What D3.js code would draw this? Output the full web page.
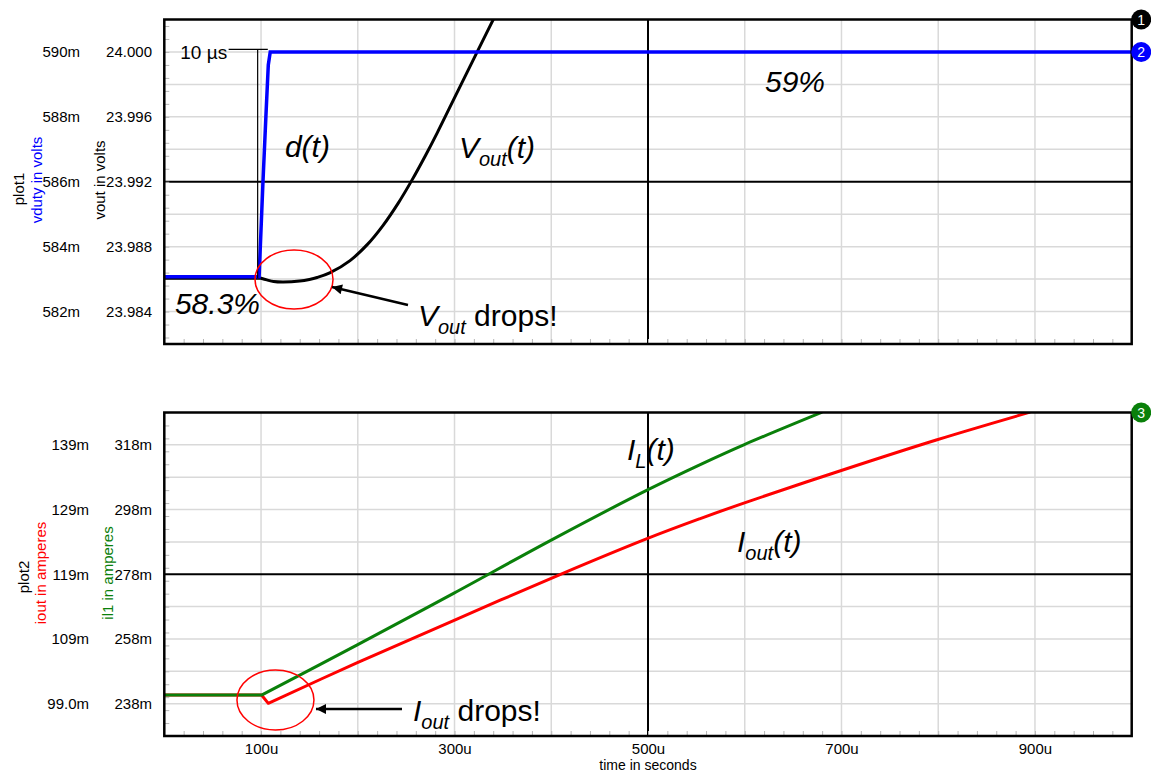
<!DOCTYPE html>
<html>
<head>
<meta charset="utf-8">
<script src="https://cdn.jsdelivr.net/npm/d3@7"></script>
<style>
  body { margin: 0; background: #fff; }
  svg { display: block; font-family: "Liberation Sans", Arial, sans-serif; }
</style>
</head>
<body>
<svg id="chart" width="1151" height="775"></svg>
<script>
// time axis (microseconds)
var xTicks = [100, 300, 500, 700, 900];

// plot1: vout in volts, vduty in volts (milli units)
var voutTime = [0, 100, 106, 113, 123, 140, 150, 158, 171, 192, 210, 226, 242, 256, 270, 282, 303, 326, 345];
var voutVals = [23.98605, 23.98605, 23.98595, 23.98585, 23.98582, 23.98588, 23.98598, 23.98610, 23.98638, 23.98714,
                23.98814, 23.98930, 23.99070, 23.99210, 23.99362, 23.99500, 23.99754, 24.00031, 24.00259];
var dutyTime = [0, 98, 102, 105, 107.5, 109.5, 1000];
var dutyVals = [583.07, 583.07, 586.0, 588.0, 589.6, 590.0, 590.0];
var voutTicks = [23.984, 23.988, 23.992, 23.996, 24.000];
var dutyTicks = [582, 584, 586, 588, 590];

// plot2: iout (mA, left axis) and il1 (mA, right axis)
var ioutTime = [0, 100.5, 107.5, 199, 299, 409, 499, 554, 599, 699, 798, 895];
var ioutVals = [100.34, 100.34, 99.05, 105.3, 111.85, 118.95, 124.5, 127.6, 130.0, 135.0, 139.75, 144.05];
var il1Time = [0, 101, 199, 299, 399, 499, 554, 599, 680];
var il1Vals = [240.7, 240.7, 256.1, 272.1, 288.4, 304.0, 311.9, 318.0, 328.1];
var ioutTicks = [99, 109, 119, 129, 139];
var il1Ticks = [238, 258, 278, 298, 318];

var svg = d3.select('#chart');

var x = d3.scaleLinear().domain([0, 1000]).range([164.3, 1131.7]);
var yV = d3.scaleLinear().domain([23.982, 24.002]).range([344, 19.5]);
var yD = d3.scaleLinear().domain([581, 591]).range([344, 19.5]);
var yI = d3.scaleLinear().domain([94, 144]).range([736, 412.5]);
var yL = d3.scaleLinear().domain([228, 328]).range([736, 412.5]);

var x0 = x.range()[0], x1 = x.range()[1];

var defs = svg.append('defs');
defs.append('clipPath').attr('id', 'clipTop')
  .append('rect').attr('x', x0).attr('y', yD.range()[1]).attr('width', x1 - x0).attr('height', yD.range()[0] - yD.range()[1]);
defs.append('clipPath').attr('id', 'clipBot')
  .append('rect').attr('x', x0).attr('y', yI.range()[1]).attr('width', x1 - x0).attr('height', yI.range()[0] - yI.range()[1]);
defs.append('marker').attr('id', 'arrow')
  .attr('viewBox', '0 0 10 10').attr('refX', 10).attr('refY', 5)
  .attr('markerWidth', 15).attr('markerHeight', 10).attr('markerUnits', 'userSpaceOnUse')
  .attr('orient', 'auto')
  .append('path').attr('d', 'M0,0L10,5L0,10Z').attr('fill', '#000');

// draws grid, minor ticks for one plot
function drawPlot(yScale, gridVals, heavyVal, minorVals) {
  var top = yScale.range()[1], bot = yScale.range()[0];
  var g = svg.append('g');

  // light grid
  g.selectAll('.hg').data(gridVals.filter(function (d) { return d !== heavyVal; })).enter()
    .append('line')
    .attr('x1', x0).attr('x2', x1)
    .attr('y1', function (d) { return yScale(d); }).attr('y2', function (d) { return yScale(d); })
    .attr('stroke', '#d9d9d9').attr('stroke-width', 1.5);
  g.selectAll('.vg').data(d3.range(100, 1000, 100).filter(function (d) { return d !== 500; })).enter()
    .append('line')
    .attr('x1', function (d) { return x(d); }).attr('x2', function (d) { return x(d); })
    .attr('y1', top).attr('y2', bot)
    .attr('stroke', '#d9d9d9').attr('stroke-width', 1.5);

  // heavy lines
  g.append('line').attr('x1', x0).attr('x2', x1)
    .attr('y1', yScale(heavyVal)).attr('y2', yScale(heavyVal))
    .attr('stroke', '#000').attr('stroke-width', 2);
  g.append('line').attr('x1', x(500)).attr('x2', x(500))
    .attr('y1', top).attr('y2', bot)
    .attr('stroke', '#000').attr('stroke-width', 2);

  // minor ticks
  var ly = g.append('g').attr('transform', 'translate(' + x0 + ',0)')
    .call(d3.axisRight(yScale).tickValues(minorVals).tickSize(5).tickFormat(''));
  var lx = g.append('g').attr('transform', 'translate(0,' + bot + ')')
    .call(d3.axisTop(x).tickValues(d3.range(20, 1000, 20)).tickSize(5).tickFormat(''));
  [ly, lx].forEach(function (a) {
    a.select('.domain').remove();
    a.selectAll('line').attr('stroke', '#b8b8b8').attr('stroke-width', 1);
  });
  return g;
}

drawPlot(yD, d3.range(582, 591, 1), 586, d3.range(0, 25).map(function (i) { return 581.2 + i * 0.4; }));
drawPlot(yI, d3.range(99, 144, 5), 119, d3.range(94, 145, 2));

// data lines: straight up to the corner index, smooth after it
function line(ts, vs, ys, corner) {
  var gen = d3.line()
    .x(function (d) { return x(ts[d]); })
    .y(function (d) { return ys(vs[d]); });
  var head = gen.curve(d3.curveLinear)(d3.range(0, corner + 1));
  if (corner >= ts.length - 1) return head;
  var tail = gen.curve(d3.curveCatmullRom.alpha(0.5))(d3.range(corner, ts.length));
  return head + tail.replace(/^M/, 'L');
}

var topLines = svg.append('g').attr('clip-path', 'url(#clipTop)');
topLines.append('path').attr('d', line(voutTime, voutVals, yV, 1))
  .attr('fill', 'none').attr('stroke', '#000').attr('stroke-width', 3);

// 10 us marker
svg.append('line').attr('x1', x(96.5)).attr('x2', x(96.5))
  .attr('y1', yD(590.08)).attr('y2', yV(23.98605))
  .attr('stroke', '#000').attr('stroke-width', 1.2);
svg.append('line').attr('x1', x(66.5)).attr('x2', x(107))
  .attr('y1', yD(590.08)).attr('y2', yD(590.08))
  .attr('stroke', '#000').attr('stroke-width', 1.2);

topLines.append('path').attr('d', line(dutyTime, dutyVals, yD, dutyTime.length - 1))
  .attr('fill', 'none').attr('stroke', '#0000ff').attr('stroke-width', 3.5);

var botLines = svg.append('g').attr('clip-path', 'url(#clipBot)');
botLines.append('path').attr('d', line(ioutTime, ioutVals, yI, 2))
  .attr('fill', 'none').attr('stroke', '#ff0000').attr('stroke-width', 3).attr('stroke-linejoin', 'round');
botLines.append('path').attr('d', line(il1Time, il1Vals, yL, 1))
  .attr('fill', 'none').attr('stroke', '#0a800a').attr('stroke-width', 3).attr('stroke-linejoin', 'round');

// frames
[yD, yI].forEach(function (s) {
  svg.append('rect').attr('x', x0).attr('y', s.range()[1])
    .attr('width', x1 - x0).attr('height', s.range()[0] - s.range()[1])
    .attr('fill', 'none').attr('stroke', '#000').attr('stroke-width', 2.5);
});

// tick labels
function labels(axis, tx) {
  var a = svg.append('g').attr('transform', 'translate(' + tx + ',0)').call(axis);
  a.select('.domain').remove();
  a.selectAll('text').attr('font-size', 15).attr('font-family', '"Liberation Sans", Arial, sans-serif').attr('fill', '#000');
  return a;
}
labels(d3.axisLeft(yD).tickValues(dutyTicks).tickSize(0).tickPadding(0).tickFormat(function (d) { return d + 'm'; }), 80);
labels(d3.axisLeft(yV).tickValues(voutTicks).tickSize(0).tickPadding(0).tickFormat(d3.format('.3f')), 152);
labels(d3.axisLeft(yI).tickValues(ioutTicks).tickSize(0).tickPadding(0).tickFormat(function (d) { return d3.format('.3r')(d) + 'm'; }), 89);
labels(d3.axisLeft(yL).tickValues(il1Ticks).tickSize(0).tickPadding(0).tickFormat(function (d) { return d + 'm'; }), 152);
var xa = svg.append('g').attr('transform', 'translate(0,' + yI.range()[0] + ')')
  .call(d3.axisBottom(x).tickValues(xTicks).tickSize(0).tickPadding(7).tickFormat(function (d) { return d + 'u'; }));
xa.select('.domain').remove();
xa.selectAll('text').attr('font-size', 15).attr('font-family', '"Liberation Sans", Arial, sans-serif').attr('fill', '#000');

svg.append('text').attr('x', x(500)).attr('y', 770).attr('text-anchor', 'middle')
  .attr('font-size', 14).text('time in seconds');

// axis titles (rotated)
function vtitle(cx, cy, txt, col) {
  svg.append('text').attr('transform', 'translate(' + cx + ',' + cy + ') rotate(-90)')
    .attr('text-anchor', 'middle').attr('dy', '0.35em')
    .attr('font-size', 15).attr('fill', col).text(txt);
}
vtitle(19, 189, 'plot1', '#000');
vtitle(37, 180, 'vduty in volts', '#0000ff');
vtitle(100, 180, 'vout in volts', '#000');
vtitle(24, 577, 'plot2', '#000');
vtitle(41, 573, 'iout in amperes', '#ff0000');
vtitle(108, 573, 'il1 in amperes', '#0a800a');

// annotations
function label(px, py, main, sub, rest, restItalic) {
  var t = svg.append('text').attr('x', px).attr('y', py).attr('font-size', 30).attr('fill', '#000');
  t.append('tspan').attr('font-style', 'italic').text(main);
  if (sub) {
    t.append('tspan').attr('font-style', 'italic').attr('font-size', 20).attr('dy', 8).text(sub);
    t.append('tspan').attr('dy', -8).attr('font-style', restItalic ? 'italic' : 'normal').text(rest);
  }
  return t;
}
svg.append('text').attr('x', x(65)).attr('y', yD(589.77)).attr('text-anchor', 'end')
  .attr('font-size', 19).text('10 µs');
label(x(124.7), yV(23.99353), 'd(t)');
label(x(304.6), yV(23.99346), 'V', 'out', '(t)', true);
label(x(620.9), yV(23.99756), '59%');
label(x(11), yV(23.98385), '58.3%');
label(x(262.2), yV(23.98311), 'V', 'out', ' drops!', false);

label(x(478.3), yI(136.66), 'I', 'L', '(t)', true);
label(x(592), yI(122.49), 'I', 'out', '(t)', true);
label(x(257.1), yI(96.36), 'I', 'out', ' drops!', false);

// circles and arrows
svg.append('ellipse').attr('cx', x(134.1)).attr('cy', yV(23.98598)).attr('rx', 39).attr('ry', 29.5)
  .attr('fill', 'none').attr('stroke', '#ff0000').attr('stroke-width', 1.5);
svg.append('ellipse').attr('cx', x(114.9)).attr('cy', yI(99.56)).attr('rx', 38.5).attr('ry', 30)
  .attr('fill', 'none').attr('stroke', '#ff0000').attr('stroke-width', 1.5);

svg.append('line').attr('x1', x(251.9)).attr('y1', yV(23.98440)).attr('x2', x(173.4)).attr('y2', yV(23.98551))
  .attr('stroke', '#000').attr('stroke-width', 2.5).attr('marker-end', 'url(#arrow)');
svg.append('line').attr('x1', x(245.7)).attr('y1', yI(98.17)).attr('x2', x(156.8)).attr('y2', yI(98.17))
  .attr('stroke', '#000').attr('stroke-width', 2.5).attr('marker-end', 'url(#arrow)');

// trace markers at right edge
var markers = [
  { n: '1', c: '#000', y: yD.range()[1] },
  { n: '2', c: '#0000ff', y: yD(590) },
  { n: '3', c: '#0a800a', y: yI.range()[1] }
];
var mk = svg.selectAll('.mk').data(markers).enter().append('g')
  .attr('transform', function (d) { return 'translate(' + (x1 + 9.5) + ',' + d.y + ')'; });
mk.append('circle').attr('r', 10).attr('fill', function (d) { return d.c; });
mk.append('text').attr('text-anchor', 'middle').attr('dy', '0.36em').attr('font-size', 14)
  .attr('fill', '#fff').text(function (d) { return d.n; });
</script>
</body>
</html>
